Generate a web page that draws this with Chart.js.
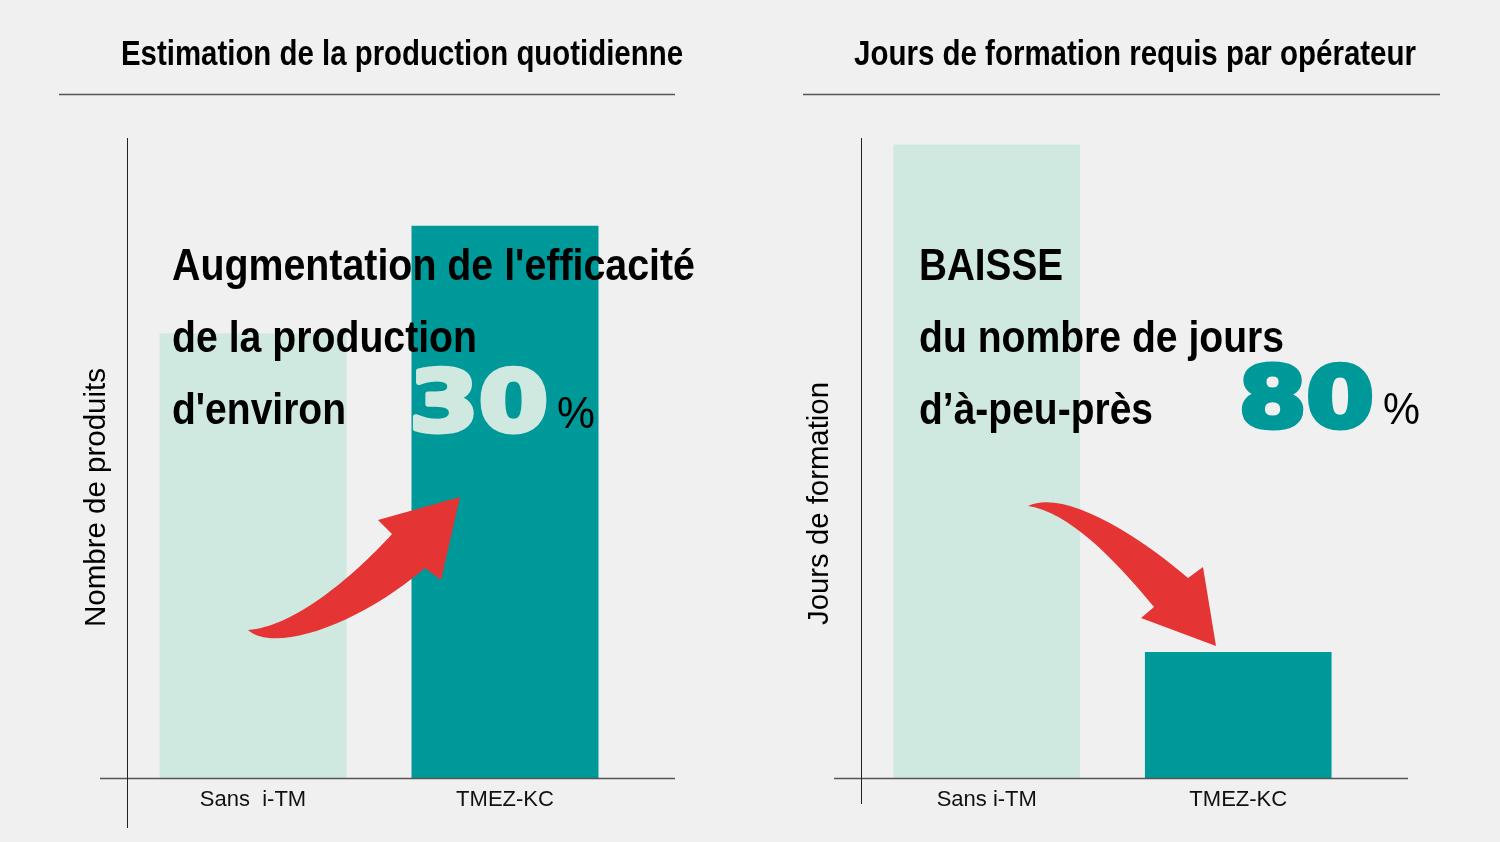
<!DOCTYPE html>
<html><head><meta charset="utf-8">
<script src="https://cdn.jsdelivr.net/npm/chart.js@4.4.1/dist/chart.umd.min.js"></script>
<style>
html,body{margin:0;padding:0;background:#f0f0f0;width:1500px;height:842px;overflow:hidden}
canvas{position:absolute;top:0}
#c1{left:0}
#c2{left:750px}
</style></head><body>
<canvas id="c1" width="750" height="842"></canvas>
<canvas id="c2" width="750" height="842"></canvas>
<script>
// ---- data ----
const categoriesProduction = ['Sans  i-TM', 'TMEZ-KC'];
const categoriesTraining = ['Sans i-TM', 'TMEZ-KC'];
const productionValues = [69.5, 86.3];
const trainingValues = [99, 19.7];
const titleProduction = 'Estimation de la production quotidienne';
const titleTraining = 'Jours de formation requis par opérateur';
const yTitleProduction = 'Nombre de produits';
const yTitleTraining = 'Jours de formation';
const noteProduction = ["Augmentation de l'efficacité", 'de la production', "d'environ"];
const noteTraining = ['BAISSE', 'du nombre de jours', 'd’à-peu-près'];
const percentProduction = '30';
const percentTraining = '80';
const percentSign = '%';

// ---- styles ----
const LIGHT = '#cfe9e0', TEAL = '#009999', RED = '#e53434';
const SANS = "'Liberation Sans', Arial, sans-serif";
const DIGITS = "'DejaVu Sans', 'Liberation Sans', sans-serif";

function fitText(ctx, text, x, y, font, width, align) {
  ctx.save();
  ctx.font = font;
  const w = ctx.measureText(text).width;
  const sx = width ? width / w : 1;
  ctx.translate(x, y);
  ctx.scale(sx, 1);
  ctx.textAlign = align || 'left';
  ctx.textBaseline = 'alphabetic';
  ctx.fillText(text, 0, 0);
  ctx.restore();
}
function fitBox(ctx, text, left, top, width, height, font, color, stroke) {
  ctx.save();
  ctx.font = font;
  const m = ctx.measureText(text);
  const w = m.actualBoundingBoxLeft + m.actualBoundingBoxRight;
  const h = m.actualBoundingBoxAscent + m.actualBoundingBoxDescent;
  const s = stroke || 0;
  const sx = (width - s) / w, sy = (height - s) / h;
  ctx.translate(left + s / 2, top + s / 2);
  ctx.scale(sx, sy);
  ctx.textAlign = 'left';
  ctx.textBaseline = 'alphabetic';
  ctx.fillStyle = color;
  ctx.fillText(text, m.actualBoundingBoxLeft, m.actualBoundingBoxAscent);
  if (s) {
    ctx.strokeStyle = color;
    ctx.lineJoin = 'round';
    ctx.lineWidth = s / Math.min(sx, sy);
    ctx.strokeText(text, m.actualBoundingBoxLeft, m.actualBoundingBoxAscent);
  }
  ctx.restore();
}

const decorPlugin = {
  id: 'decor',
  afterDraw(chart, args, o) {
    const ctx = chart.ctx, ca = chart.chartArea;
    ctx.save();
    ctx.translate(-o.offsetX, 0);
    const L = ca.left + o.offsetX, R = ca.right + o.offsetX;
    // title + underline
    ctx.fillStyle = '#000';
    fitText(ctx, o.title, o.titleX, 65, 'bold 35px ' + SANS, 562, 'center');
    ctx.strokeStyle = '#555'; ctx.lineWidth = 1.5;
    ctx.beginPath(); ctx.moveTo(o.ruleFrom, 94.5); ctx.lineTo(o.ruleTo, 94.5); ctx.stroke();
    // axes
    ctx.strokeStyle = '#555'; ctx.lineWidth = 1.5;
    ctx.beginPath(); ctx.moveTo(L - 27, ca.bottom + 0.5); ctx.lineTo(R + 44, ca.bottom + 0.5); ctx.stroke();
    ctx.strokeStyle = '#222'; ctx.lineWidth = 1;
    ctx.beginPath(); ctx.moveTo(L + 0.5, ca.top); ctx.lineTo(L + 0.5, ca.bottom + o.yAxisExtra); ctx.stroke();
    // y title (rotated)
    ctx.save();
    ctx.fillStyle = '#000';
    ctx.translate(o.yTitleX, o.yTitleY);
    ctx.rotate(-Math.PI / 2);
    fitText(ctx, o.yTitle, 0, 0, '30px ' + SANS, o.yTitleLen, 'center');
    ctx.restore();
    // note lines
    ctx.fillStyle = '#000';
    o.note.forEach((t, i) => fitText(ctx, t, o.noteX, 280 + i * 72, 'bold 45px ' + SANS, o.noteW[i], 'left'));
    // big number
    fitBox(ctx, o.big, o.bigBox[0], o.bigBox[1], o.bigBox[2], o.bigBox[3], 'bold 80px ' + DIGITS, o.bigColor, 5);
    ctx.fillStyle = '#000';
    fitText(ctx, percentSign, o.pct[0], o.pct[1], '44px ' + SANS, o.pct[2], 'left');
    // arrow
    ctx.fillStyle = RED;
    ctx.beginPath();
    const a = o.arrow;
    ctx.moveTo(a[0][0], a[0][1]);
    ctx.bezierCurveTo(a[1][0], a[1][1], a[2][0], a[2][1], a[3][0], a[3][1]);
    for (let i = 4; i <= 7; i++) ctx.lineTo(a[i][0], a[i][1]);
    ctx.bezierCurveTo(a[8][0], a[8][1], a[9][0], a[9][1], a[0][0], a[0][1]);
    ctx.closePath();
    ctx.fill();
    ctx.restore();
  }
};

function makeChart(id, labels, values, padding, decor) {
  return new Chart(document.getElementById(id), {
    type: 'bar',
    data: {
      labels: labels,
      datasets: [{
        data: values,
        backgroundColor: [LIGHT, TEAL],
        borderWidth: 0,
        barPercentage: 0.742,
        categoryPercentage: 1
      }]
    },
    options: {
      responsive: false,
      animation: false,
      layout: { padding: padding },
      plugins: { legend: { display: false }, tooltip: { enabled: false }, decor: decor },
      scales: {
        x: {
          offset: true,
          grid: { display: false, drawTicks: false },
          border: { display: false },
          ticks: { color: '#111', font: { family: SANS, size: 22 }, padding: 9, maxRotation: 0 },
          afterFit: s => { s.height = 64; }
        },
        y: { display: false, min: 0, max: 100 }
      }
    },
    plugins: [decorPlugin]
  });
}

makeChart('c1', categoriesProduction, productionValues,
  { left: 127, right: 119, top: 138, bottom: 0 },
  {
    offsetX: 0, title: titleProduction, titleX: 402, ruleFrom: 59, ruleTo: 675,
    yAxisExtra: 50, yTitle: yTitleProduction, yTitleX: 105, yTitleY: 497.5, yTitleLen: 259,
    note: noteProduction, noteX: 172, noteW: [523, 305, 174],
    big: percentProduction, bigBox: [413, 366, 133, 69], bigColor: LIGHT, pct: [557, 428, 38],
    arrow: [[248, 630], [275, 654], [360, 624], [425, 568], [441, 580], [460, 497], [378, 520], [392, 534], [352, 578], [293, 627]]
  });

makeChart('c2', categoriesTraining, trainingValues,
  { left: 111, right: 136, top: 138, bottom: 0 },
  {
    offsetX: 750, title: titleTraining, titleX: 1135, ruleFrom: 803, ruleTo: 1440,
    yAxisExtra: 26, yTitle: yTitleTraining, yTitleX: 828, yTitleY: 503.5, yTitleLen: 243,
    note: noteTraining, noteX: 919, noteW: [144, 365, 234],
    big: percentTraining, bigBox: [1241, 362, 131, 69], bigColor: TEAL, pct: [1383, 424, 37],
    arrow: [[1028, 506], [1065, 488], [1142, 538], [1188, 578], [1203, 567], [1216, 646], [1141, 618], [1154, 607], [1113, 557], [1068, 512]]
  });
</script>
</body></html>
